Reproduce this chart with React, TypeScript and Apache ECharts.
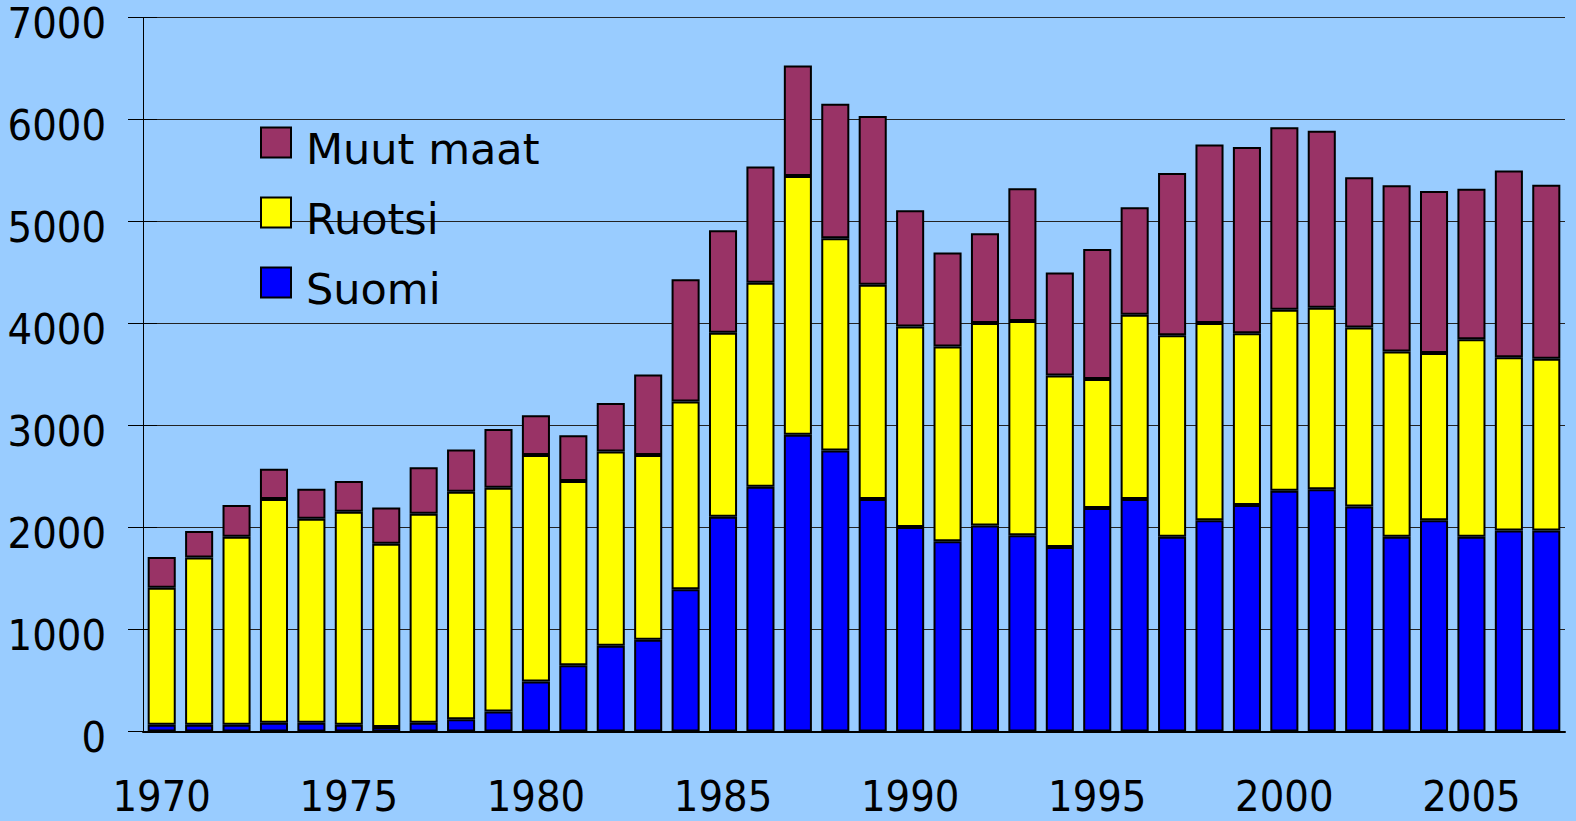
import React, { useEffect, useRef } from "react";
import * as echarts from "echarts";

const years = [
  "1970", "1971", "1972", "1973", "1974", "1975", "1976", "1977", "1978", "1979",
  "1980", "1981", "1982", "1983", "1984", "1985", "1986", "1987", "1988", "1989",
  "1990", "1991", "1992", "1993", "1994", "1995", "1996", "1997", "1998", "1999",
  "2000", "2001", "2002", "2003", "2004", "2005", "2006", "2007",
];

const suomi = [
  65, 65, 65, 85, 85, 65, 45, 85, 120, 195,
  490, 650, 840, 900, 1395, 2105, 2400, 2910, 2755, 2280,
  2005, 1865, 2020, 1925, 1810, 2190, 2280, 1910, 2070, 2220,
  2360, 2375, 2205, 1910, 2070, 1910, 1970, 1970,
];

const ruotsi = [
  1345, 1640, 1845, 2195, 2000, 2090, 1795, 2050, 2230, 2195,
  2220, 1805, 1905, 1810, 1840, 1805, 2000, 2535, 2080, 2100,
  1965, 1910, 1985, 2100, 1680, 1265, 1805, 1975, 1935, 1685,
  1775, 1780, 1755, 1815, 1640, 1935, 1700, 1685,
];

const muutMaat = [
  300, 260, 310, 295, 295, 300, 355, 455, 415, 575,
  390, 450, 475, 790, 1200, 1005, 1140, 1085, 1320, 1655,
  1140, 920, 880, 1300, 1010, 1275, 1055, 1590, 1750, 1825,
  1790, 1735, 1475, 1630, 1590, 1475, 1830, 1705,
];

const yTicks = { min: 0, max: 7000, interval: 1000 };
const legendOrder = ["Muut maat", "Ruotsi", "Suomi"];

export default function App() {
  const ref = useRef<HTMLDivElement>(null);

  useEffect(() => {
    document.body.style.margin = "0";
    if (!ref.current) return;
    const chart = echarts.init(ref.current, null, { renderer: "svg" });
    const narrow = '"DejaVu Sans Condensed", "Liberation Sans Narrow", sans-serif';
    const barStyle = (color: string) => ({
      color,
      borderColor: "#000000",
      borderWidth: 2,
    });
    chart.setOption({
      animation: false,
      backgroundColor: "#99CCFF",
      grid: {
        left: 143,
        right: 11,
        top: 17.5,
        bottom: 89.5,
        containLabel: false,
        outerBoundsMode: "none",
      },
      legend: {
        data: legendOrder,
        orient: "vertical",
        left: 255,
        top: 110,
        itemWidth: 30,
        itemHeight: 30,
        itemGap: 15,
        icon: "rect",
        selectedMode: false,
        formatter: (name: string) => "\n" + name,
        textStyle: {
          fontFamily: '"DejaVu Sans", Verdana, sans-serif',
          fontSize: 43,
          lineHeight: 12,
          color: "#000000",
          padding: [0, 0, 0, 10],
        },
      },
      xAxis: {
        type: "category",
        data: years,
        boundaryGap: true,
        axisLine: { show: true, lineStyle: { color: "#000000", width: 2 } },
        axisTick: { show: false },
        axisLabel: {
          interval: 4,
          fontFamily: narrow,
          fontSize: 43,
          color: "#000000",
          margin: 43,
        },
        splitLine: { show: false },
      },
      yAxis: [
        {
          type: "value",
          ...yTicks,
          axisLine: { show: true, lineStyle: { color: "#000000", width: 1 } },
          axisTick: { show: true, length: 15, lineStyle: { color: "#000000", width: 1 } },
          axisLabel: {
            fontFamily: narrow,
            fontSize: 43,
            color: "#000000",
            margin: 37,
            verticalAlign: "top",
            lineHeight: 11,
            formatter: (v: number) => String(v),
          },
          splitLine: { show: true, lineStyle: { color: "#222222", width: 1 } },
        },
        {
          type: "value",
          ...yTicks,
          position: "left",
          axisLine: { show: false },
          axisTick: { show: true, inside: true, length: 14, lineStyle: { color: "#000000", width: 1 } },
          axisLabel: { show: false },
          splitLine: { show: false },
        },
      ],
      series: [
        { name: "Suomi", type: "bar", stack: "total", data: suomi, barCategoryGap: "25%", itemStyle: barStyle("#0000FF") },
        { name: "Ruotsi", type: "bar", stack: "total", data: ruotsi, barCategoryGap: "25%", itemStyle: barStyle("#FFFF00") },
        { name: "Muut maat", type: "bar", stack: "total", data: muutMaat, barCategoryGap: "25%", itemStyle: barStyle("#993366") },
      ],
    });
    return () => chart.dispose();
  }, []);

  return (
    <div
      ref={ref}
      style={{ position: "absolute", left: 0, top: 0, width: 1576, height: 821, background: "#99CCFF" }}
    />
  );
}
